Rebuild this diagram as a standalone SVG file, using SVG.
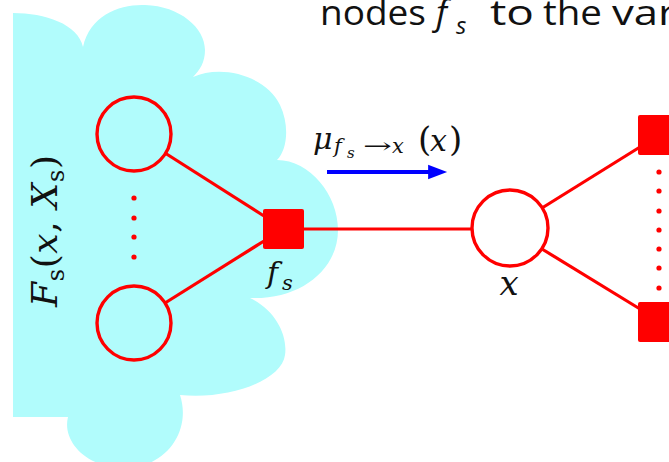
<svg xmlns="http://www.w3.org/2000/svg" width="669" height="462" viewBox="0 0 669 462">
<defs>
<style>
.cloud{fill:#b1fcfc;stroke:none}
.edge{stroke:#ff0000;stroke-width:3.2;fill:none}
.var{stroke:#ff0000;stroke-width:3.4}
.fac{fill:#ff0000}
.dot{fill:#ff0000}
</style>
<marker id="ah" markerWidth="6" markerHeight="5" refX="0.5" refY="2.5" orient="auto" markerUnits="strokeWidth">
<path d="M0,0.6 L5,2.5 L0,4.4 Z" fill="#0000ff"/>
</marker>
</defs>
<rect width="669" height="462" fill="#ffffff"/>
<path class="cloud" d="M13,13 C45,13 78,24 83,47 C90,15 120,4 145,5 C180,6 205,28 205,50 C205,62 200,70 193,77 C222,64 266,76 280,105 C290,126 287,150 277,160 C310,160 338,195 338,230 C338,270 300,300 250,298 C275,310 288,335 285,355 C282,380 230,400 180,395 C192,432 165,468 125,468 C85,468 62,440 68,417 L13,417 Z"/>
<g id="header" font-family="'Open Sans', 'Liberation Sans', sans-serif" fill="#111111" font-size="35">
<text x="320" y="25" textLength="106" lengthAdjust="spacingAndGlyphs">nodes</text>
<text x="436" y="25" font-style="italic">f</text>
<text x="456" y="34" font-size="24" font-style="italic">s</text>
<text x="490" y="25" textLength="44" lengthAdjust="spacingAndGlyphs">to</text>
<text x="543" y="25" textLength="59" lengthAdjust="spacingAndGlyphs">the</text>
<text x="612" y="25" textLength="64" lengthAdjust="spacingAndGlyphs">var</text>
</g>
<g id="connectors">
<line class="edge" x1="165" y1="153" x2="264" y2="216"/>
<line class="edge" x1="165" y1="303" x2="264" y2="241"/>
<line class="edge" x1="304" y1="229" x2="472" y2="229"/>
<line class="edge" x1="542" y1="208" x2="640" y2="147"/>
<line class="edge" x1="542" y1="249" x2="640" y2="309"/>
<line id="msg-arrow" x1="327" y1="172" x2="430" y2="172" stroke="#0000ff" stroke-width="3.8" marker-end="url(#ah)"/>
</g>
<g id="var-top"><circle class="var" cx="134" cy="134" r="37" fill="none"/></g>
<g id="var-bottom"><circle class="var" cx="134" cy="323" r="37" fill="none"/></g>
<g id="dots-left">
<circle class="dot" cx="134" cy="198" r="2.6"/>
<circle class="dot" cx="134" cy="218" r="2.6"/>
<circle class="dot" cx="134" cy="237" r="2.6"/>
<circle class="dot" cx="134" cy="257" r="2.6"/>
</g>
<g id="factor-fs">
<rect class="fac" x="263" y="209" width="41" height="40" rx="2"/>
<text font-family="'DejaVu Serif', serif" fill="#111111" font-style="italic" x="267" y="283" font-size="30">f</text>
<text font-family="'DejaVu Serif', serif" fill="#111111" font-style="italic" x="282" y="290" font-size="21">s</text>
</g>
<g id="var-x">
<circle class="var" cx="510" cy="228" r="38" fill="#ffffff"/>
<text font-family="'DejaVu Serif', serif" fill="#111111" font-style="italic" x="509" y="295" font-size="34" text-anchor="middle">x</text>
</g>
<g id="factor-right-top"><rect class="fac" x="638" y="115" width="41" height="40" rx="2"/></g>
<g id="factor-right-bottom"><rect class="fac" x="638" y="302" width="41" height="40" rx="2"/></g>
<g id="dots-right">
<circle class="dot" cx="659" cy="172" r="2.6"/>
<circle class="dot" cx="659" cy="191" r="2.6"/>
<circle class="dot" cx="659" cy="211" r="2.6"/>
<circle class="dot" cx="659" cy="230" r="2.6"/>
<circle class="dot" cx="659" cy="249" r="2.6"/>
<circle class="dot" cx="659" cy="268" r="2.6"/>
<circle class="dot" cx="659" cy="288" r="2.6"/>
</g>
<g id="msg-label" font-family="'DejaVu Serif', serif" fill="#111111">
<text font-style="italic" x="313" y="149" font-size="30">μ</text>
<text font-style="italic" x="334" y="153" font-size="21">f</text>
<text font-style="italic" x="347" y="158" font-size="15">s</text>
<text x="363" y="153" font-size="21" textLength="29" lengthAdjust="spacingAndGlyphs">→</text>
<text font-style="italic" x="392" y="153" font-size="21">x</text>
<text x="418" y="151" font-size="34">(</text>
<text font-style="italic" x="430" y="151" font-size="30">x</text>
<text x="449" y="151" font-size="34">)</text>
</g>
<g id="cloud-label" font-family="'DejaVu Serif', serif" fill="#111111">
<text transform="translate(57,307) rotate(-90)" font-size="36" textLength="152" lengthAdjust="spacing"><tspan font-style="italic">F</tspan><tspan font-size="24" dy="7">s</tspan><tspan dy="-7">(</tspan><tspan font-style="italic">x</tspan><tspan>, </tspan><tspan font-style="italic">X</tspan><tspan font-size="24" dy="7">s</tspan><tspan dy="-7">)</tspan></text>
</g>
</svg>
